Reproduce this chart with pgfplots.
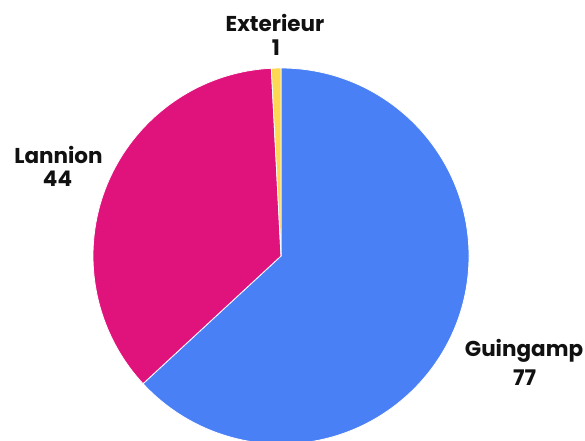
\documentclass[border=0pt]{standalone}
\usepackage{fontspec}
\setmainfont{Poppins}[BoldFont={* Bold}]
\usepackage{pgfplots}
\usepackage{pgfplotstable}
\pgfplotsset{compat=1.18}
\definecolor{cGuin}{HTML}{4A80F6}
\definecolor{cLann}{HTML}{E0137D}
\definecolor{cExt}{HTML}{FDD853}
\definecolor{txt}{HTML}{111111}
\tikzset{lbl/.style={font=\fontsize{21.5}{24}\selectfont\bfseries, text=txt, anchor=base, inner sep=0pt}}
\pgfplotstableread{
label value
Guingamp 77
Lannion 44
Exterieur 1
}\piedata
\begin{document}
\begin{tikzpicture}
\pgfplotstablegetelem{0}{value}\of\piedata\let\vA\pgfplotsretval
\pgfplotstablegetelem{1}{value}\of\piedata\let\vB\pgfplotsretval
\pgfplotstablegetelem{2}{value}\of\piedata\let\vC\pgfplotsretval
\pgfmathsetmacro{\tot}{\vA+\vB+\vC}
\pgfmathsetmacro{\aA}{90-360*(\vA/\tot)}
\pgfmathsetmacro{\aC}{90+360*(\vC/\tot)}
\pgfmathsetmacro{\aB}{\aC+360*(\vB/\tot)}
\begin{axis}[
  width=585pt, height=440pt, scale only axis,
  xmin=0, xmax=585, ymin=0, ymax=440,
  hide axis, clip=true,
]
\fill[cGuin, draw=white, line width=0.8pt] (axis cs:281,184) -- ++(90:188pt) arc[start angle=90, end angle=\aA, radius=188pt] -- cycle;
\fill[cLann, draw=white, line width=0.8pt] (axis cs:281,184) -- ++(\aC:188pt) arc[start angle=\aC, end angle=\aB, radius=188pt] -- cycle;
\fill[cExt, draw=white, line width=0.8pt] (axis cs:281,184) -- ++(90:188pt) arc[start angle=90, end angle=\aC, radius=188pt] -- cycle;
\node[lbl] at (axis cs:275,408) {Exterieur};
\node[lbl] at (axis cs:276,384) {1};
\node[lbl] at (axis cs:58.5,277) {Lannion};
\node[lbl] at (axis cs:57.5,253.5) {44};
\node[lbl] at (axis cs:524,83.5) {Guingamp};
\node[lbl] at (axis cs:524.5,55) {77};
\end{axis}
\pgfresetboundingbox
\path (current axis.south west) rectangle (current axis.north east);
\end{tikzpicture}
\end{document}
